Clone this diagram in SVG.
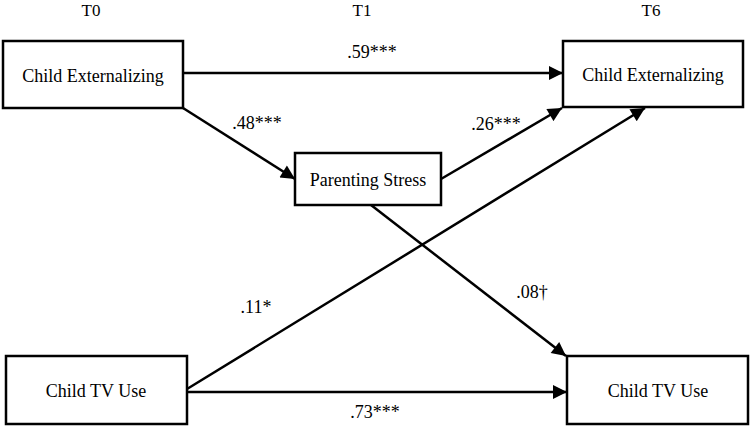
<svg xmlns="http://www.w3.org/2000/svg" width="750" height="427" viewBox="0 0 750 427">
<style>
.box{fill:#fff;stroke:#000;stroke-width:2.5}
.t{font-family:'Liberation Serif','DejaVu Serif',serif;font-size:18px;fill:#000;text-anchor:middle}
.h{font-size:17px}
.c{stroke:#000;stroke-width:2.5;fill:none;marker-end:url(#ah)}
</style>
<defs>
<marker id="ah" viewBox="0 0 10 10" refX="10" refY="5" markerWidth="6.4" markerHeight="5.6" markerUnits="strokeWidth" orient="auto">
<path d="M0,0 L10,5 L0,10 Z" fill="#000"/>
</marker>
</defs>
<rect width="750" height="427" fill="#fff"/>
<g id="time-labels">
<text class="t h" x="91" y="16">T0</text>
<text class="t h" x="362" y="16">T1</text>
<text class="t h" x="651" y="16">T6</text>
</g>
<g id="connectors">
<line class="c" x1="184" y1="73" x2="563" y2="73"/>
<line class="c" x1="183" y1="108" x2="295" y2="179"/>
<line class="c" x1="441" y1="179" x2="562" y2="108"/>
<line class="c" x1="187" y1="389" x2="645" y2="108"/>
<line class="c" x1="371" y1="205" x2="566" y2="356"/>
<line class="c" x1="187" y1="392" x2="567" y2="392"/>
<text class="t" x="372" y="58">.59***</text>
<text class="t" x="257" y="129">.48***</text>
<text class="t" x="496" y="130">.26***</text>
<text class="t" x="256" y="313">.11*</text>
<text class="t" x="532" y="298">.08†</text>
<text class="t" x="375" y="418">.73***</text>
</g>
<g id="n1"><rect class="box" x="3" y="41" width="180" height="67"/><text class="t" x="93" y="82">Child Externalizing</text></g>
<g id="n2"><rect class="box" x="563" y="41" width="180" height="66"/><text class="t" x="653" y="81">Child Externalizing</text></g>
<g id="n3"><rect class="box" x="295" y="153" width="146" height="52"/><text class="t" x="368" y="186">Parenting Stress</text></g>
<g id="n4"><rect class="box" x="6" y="356" width="181" height="68"/><text class="t" x="96" y="397">Child TV Use</text></g>
<g id="n5"><rect class="box" x="567" y="356" width="181" height="68"/><text class="t" x="658" y="397">Child TV Use</text></g>
</svg>
